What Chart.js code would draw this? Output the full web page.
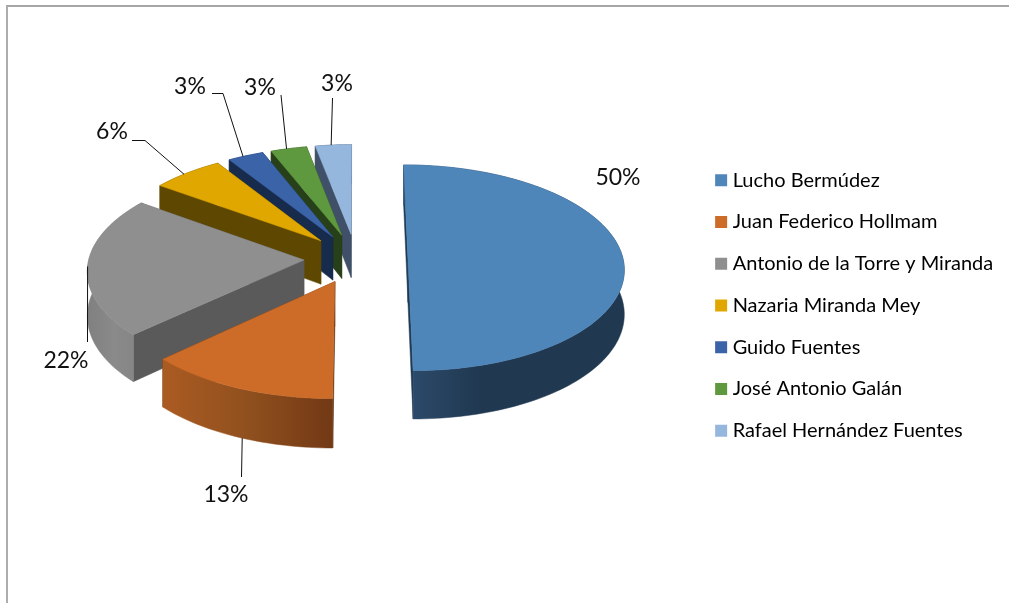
<!DOCTYPE html>
<html lang="es">
<head>
<meta charset="utf-8">
<title>Pie 3D</title>
<script src="https://cdn.jsdelivr.net/npm/chart.js@4/dist/chart.umd.js"></script>
<style>
    body { margin: 0; background: #fff; }
    #wrap { position: relative; width: 1009px; height: 603px; overflow: hidden; }
    #frame { position: absolute; left: 6px; top: 5px; right: 0; bottom: 0;
             border-left: 2px solid #adadad; border-top: 2px solid #a6a6a6; }
    canvas { position: absolute; left: 0; top: 0; }
</style>
</head>
<body>
<div id="wrap">
    <div id="frame"></div>
    <canvas id="pie" width="1009" height="603"></canvas>
</div>
<script>
const categories = ['Lucho Bermúdez', 'Juan Federico Hollmam', 'Antonio de la Torre y Miranda',
    'Nazaria Miranda Mey', 'Guido Fuentes', 'José Antonio Galán', 'Rafael Hernández Fuentes'];
const percentages = [50, 13, 22, 6, 3, 3, 3];

const topColors = ['#4f86ba', '#cd6c29', '#8f8f8f', '#e0a700', '#3a63a8', '#5f993f', '#95b6dd'];
const cutColors = ['#1e3a55', '#5a2f10', '#5a5a5a', '#5e4700', '#172b4d', '#27401a', '#3f5068'];
const rimStops = [
    ['#2d4c6d', '#203850', '#203850'],
    ['#ab5b22', '#90501e', '#723915'],
    ['#808080', '#8a8a8a', '#848484'],
    ['#5e4700', '#5e4700', '#5e4700'],
    ['#172b4d', '#172b4d', '#172b4d'],
    ['#27401a', '#27401a', '#27401a'],
    ['#3f5068', '#3f5068', '#3f5068']
];

// Where the text sits and the elbow of its leader line, the last leg goes to the slice
const labelSpots = [
    { x: 618, y: 178, leader: [] },
    { x: 226, y: 495, leader: [[241.5, 477]], onWall: true, at: 0.475 },
    { x: 66, y: 361, leader: [[87.5, 342]] },
    { x: 112, y: 132, leader: [[132, 140.5], [145, 140.5]], at: 0.45 },
    { x: 190, y: 87, leader: [[212, 93.5], [223, 93.5]], at: 0.42 },
    { x: 260, y: 88, leader: [[281, 95]], at: 0.44 },
    { x: 337, y: 84, leader: [[332.5, 98]], at: 0.44 }
];

const explode = 52;     // same for every slice
const squash = 102 / 215;
const perspective = 0.09;
const lift = -47;       // the tilted plate sits above the middle of the chart area
const thickness = 44;

// Flat pie position (in radius units, y towards the viewer) to screen
function project(el, u, v) {
    const w = 1 / (1 - perspective * v);
    const r = el.outerRadius;
    return { x: el.x + r * u * w, y: el.y + lift + r * squash * v * w, w: w };
}

function rimPoints(el, off) {
    const pts = [];
    const steps = Math.max(8, Math.ceil((el.endAngle - el.startAngle) * 40));
    for (let i = 0; i <= steps; i++) {
        const a = el.startAngle + (el.endAngle - el.startAngle) * i / steps;
        pts.push(project(el, off.u + Math.cos(a), off.v + Math.sin(a)));
    }
    return pts;
}

function fillPath(ctx, pts, fill) {
    ctx.beginPath();
    pts.forEach((p, i) => i ? ctx.lineTo(p.x, p.y) : ctx.moveTo(p.x, p.y));
    ctx.closePath();
    ctx.fillStyle = fill;
    ctx.fill();
    ctx.strokeStyle = fill;
    ctx.lineWidth = 0.5;
    ctx.stroke();
}

const dropped = (p) => ({ x: p.x, y: p.y + thickness * p.w });

function sliceOffset(el) {
    const mid = (el.startAngle + el.endAngle) / 2;
    const d = el.options.offset / el.outerRadius;
    return { u: d * Math.cos(mid), v: d * Math.sin(mid) };
}

const pie3d = {
    id: 'pie3d',
    beforeDatasetsDraw(chart) {
        const ctx = chart.ctx;
        const arcs = chart.getDatasetMeta(0).data;
        const order = arcs.map((_, i) => i).reverse();
        ctx.save();
        // back slices first, the last ones in the data are at the back here
        order.forEach((i) => {
            const el = arcs[i];
            const off = sliceOffset(el);
            const rim = rimPoints(el, off);
            const apex = project(el, off.u, off.v);
            const first = rim[0];
            const last = rim[rim.length - 1];
            fillPath(ctx, [apex, first, dropped(first), dropped(apex)], cutColors[i]);
            fillPath(ctx, [apex, last, dropped(last), dropped(apex)], cutColors[i]);
            const xs = rim.map((p) => p.x);
            const left = Math.min(...xs);
            const right = Math.max(...xs);
            const grad = ctx.createLinearGradient(left, 0, right, 0);
            const stops = rimStops[i];
            // the big slice gets dark quite early
            grad.addColorStop(0, stops[0]);
            grad.addColorStop(i === 0 ? 0.35 : 0.5, stops[1]);
            grad.addColorStop(1, stops[2]);
            fillPath(ctx, rim.concat(rim.map(dropped).reverse()), grad);
            fillPath(ctx, [apex].concat(rim), topColors[i]);
        });

        // percentage labels
        ctx.font = '23px Lato';
        ctx.textAlign = 'center';
        ctx.textBaseline = 'middle';
        arcs.forEach((el, i) => {
            const spot = labelSpots[i];
            ctx.fillStyle = '#111';
            ctx.fillText(percentages[i] + '%', spot.x, spot.y);
            if (!spot.leader.length) return;
            const off = sliceOffset(el);
            const frac = spot.at === undefined ? 0.5 : spot.at;
            const a = el.startAngle + (el.endAngle - el.startAngle) * frac;
            let end = project(el, off.u + Math.cos(a), off.v + Math.sin(a));
            if (spot.onWall) end = dropped(end);
            ctx.beginPath();
            spot.leader.forEach((p, k) => k ? ctx.lineTo(p[0], p[1]) : ctx.moveTo(p[0], p[1]));
            ctx.lineTo(end.x, end.y);
            ctx.strokeStyle = '#111';
            ctx.lineWidth = 1;
            ctx.stroke();
        });
        ctx.restore();
        return false;
    }
};

new Chart(document.getElementById('pie'), {
    type: 'pie',
    data: {
        labels: categories,
        datasets: [{
            data: percentages,
            backgroundColor: topColors,
            borderWidth: 0,
            offset: explode
        }]
    },
    plugins: [pie3d],
    options: {
        responsive: false,
        animation: false,
        radius: 215,
        layout: { padding: { left: 14, right: 5.75, top: 8 } },
        plugins: {
            tooltip: { enabled: false },
            legend: {
                position: 'right',
                labels: {
                    boxWidth: 3,
                    boxHeight: 3,
                    padding: 21.75,
                    color: '#111',
                    font: { family: 'Lato', size: 20 },
                    generateLabels(chart) {
                        return categories.map((name, i) => ({
                            text: name,
                            fillStyle: topColors[i],
                            strokeStyle: topColors[i],
                            lineWidth: 9,
                            index: i
                        }));
                    }
                }
            }
        }
    }
});
</script>
</body>
</html>
